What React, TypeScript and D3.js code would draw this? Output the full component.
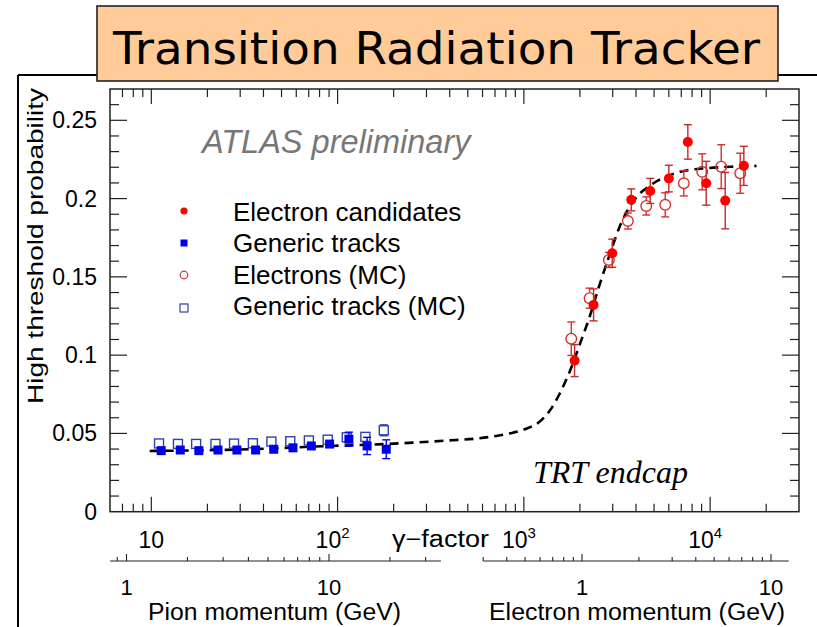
import React from "react";
import * as d3 from "d3";

const W = 817;
const H = 627;

// Axis domains
const gammaDomain = [6, 30000];
const probDomain = [0, 0.27];
const gammaMajor = [10, 100, 1000, 10000];
const gammaExp = ["", "2", "3", "4"];
const probMajor = [0, 0.05, 0.1, 0.15, 0.2, 0.25];
const probLabels = ["0", "0.05", "0.1", "0.15", "0.2", "0.25"];

// Secondary momentum axes
const pionExtent = [0.83, 35.7];
const pionMajor = [1, 10];
const pionMinor = [0.9, 2, 3, 4, 5, 6, 7, 8, 9, 20, 30];
const pionLabels = ["1", "10"];
const electronExtent = [0.3, 12.4];
const electronMajor = [1, 10];
const electronMinor = [0.3, 0.4, 0.5, 0.6, 0.7, 0.8, 0.9, 2, 3, 4, 5, 6, 7, 8, 9];
const electronLabels = ["1", "10"];

// Generic tracks (data)
const genericGamma = [11.3, 14.3, 18.0, 22.8, 28.8, 36.3, 45.4, 57.6, 72.3, 90.6, 115, 144, 182.5];
const genericValue = [0.039, 0.0394, 0.039, 0.0394, 0.0394, 0.0394, 0.0399, 0.0408, 0.042, 0.0432, 0.0463, 0.042, 0.0399];
const genericError = [0.001, 0.001, 0.001, 0.001, 0.001, 0.001, 0.001, 0.0012, 0.0015, 0.002, 0.0045, 0.0055, 0.006];

// Generic tracks (MC)
const genericMcGamma = [11.0, 13.9, 17.4, 22.1, 27.8, 35.1, 44.1, 55.7, 70.1, 88.5, 112, 141, 177];
const genericMcValue = [0.0436, 0.0433, 0.0433, 0.0433, 0.0435, 0.0437, 0.0448, 0.045, 0.0455, 0.046, 0.0475, 0.0478, 0.052];
const genericMcError = [0.0008, 0.0008, 0.0008, 0.0008, 0.0008, 0.0009, 0.001, 0.001, 0.0012, 0.0015, 0.002, 0.002, 0.0035];

// Electron candidates (data)
const electronGamma = [1872, 2367, 2982, 3772, 4770, 6002, 7592, 9530, 12050, 15170];
const electronValue = [0.0965, 0.1321, 0.1651, 0.1992, 0.2049, 0.2128, 0.2362, 0.2098, 0.1987, 0.2209];
const electronError = [0.0102, 0.0102, 0.009, 0.007, 0.008, 0.0085, 0.011, 0.014, 0.018, 0.0125];

// Electrons (MC)
const electronMcGamma = [1797, 2253, 2860, 3616, 4540, 5741, 7225, 9070, 11470, 14510];
const electronMcValue = [0.1105, 0.1364, 0.1608, 0.1857, 0.1953, 0.196, 0.2098, 0.2171, 0.2204, 0.2162];
const electronMcError = [0.0107, 0.0064, 0.0048, 0.0051, 0.0058, 0.0077, 0.0081, 0.0115, 0.014, 0.0128];

// Fit curve
const fitGamma = [9.8, 29.8, 90.6, 186, 253.5, 383, 578, 711, 873, 1030, 1214, 1373, 1554, 1759, 1991, 2253, 2549, 2884, 3264, 3694, 4178, 4728, 5812, 7443, 9531, 13250, 17750];
const fitValue = [0.0388, 0.0397, 0.042, 0.0433, 0.0441, 0.0454, 0.0469, 0.0484, 0.0505, 0.053, 0.0575, 0.0643, 0.0752, 0.0893, 0.1065, 0.1244, 0.1449, 0.164, 0.1819, 0.1947, 0.203, 0.2081, 0.2141, 0.2179, 0.2194, 0.2204, 0.2209];

const legendLabels = ["Electron candidates", "Generic tracks", "Electrons (MC)", "Generic tracks (MC)"];

const SANS = "'Liberation Sans', Arial, Helvetica, sans-serif";

export default function App() {
  const left = 110, right = 799, top = 89, bottom = 511.7;
  const x = d3.scaleLog().domain(gammaDomain).range([left, right]);
  const y = d3.scaleLinear().domain(probDomain).range([bottom, top]);
  const pion = d3.scaleLog().domain([1, 10]).range([126.5, 329]);
  const elec = d3.scaleLog().domain([1, 10]).range([582, 771]);

  const gammaTicks = x.ticks();
  const probTicks = d3.range(0, 0.2701, 0.01);

  const line = d3
    .line<number>()
    .x((_, i) => x(fitGamma[i]))
    .y((d) => y(d))
    .curve(d3.curveMonotoneX);

  const redBar = "#c22a2a";
  const redOpen = "#d23232";
  const blue = "#0000ee";
  const blueOpen = "#3040b0";

  const errBar = (cx: number, v: number, e: number, gap: number, color: string, key: string) => {
    const yt = y(v + e), yb = y(v - e), yc = y(v);
    const items: any[] = [];
    if (yc - yt > gap) {
      items.push(<line key={key + "u"} x1={cx} x2={cx} y1={yt} y2={yc - gap} stroke={color} strokeWidth={1.4} />);
      items.push(<line key={key + "uc"} x1={cx - 4} x2={cx + 4} y1={yt} y2={yt} stroke={color} strokeWidth={1.4} />);
    }
    if (yb - yc > gap) {
      items.push(<line key={key + "d"} x1={cx} x2={cx} y1={yc + gap} y2={yb} stroke={color} strokeWidth={1.4} />);
      items.push(<line key={key + "dc"} x1={cx - 4} x2={cx + 4} y1={yb} y2={yb} stroke={color} strokeWidth={1.4} />);
    }
    return items;
  };

  return (
    <svg width={W} height={H} style={{ position: "absolute", left: 0, top: 0, background: "#fff" }} fontFamily={SANS}>
      {/* outer slide border */}
      <line x1={18} x2={W} y1={75} y2={75} stroke="#000" strokeWidth={2} />
      <line x1={18} x2={18} y1={75} y2={H} stroke="#000" strokeWidth={2} />

      {/* title box */}
      <rect x={97} y={6} width={681} height={75} fill="#ffcc99" stroke="#222" strokeWidth={1.6} />
      <text x={113} y={64} fontFamily="'DejaVu Sans', sans-serif" fontSize={45} textLength={647} lengthAdjust="spacingAndGlyphs" fill="#000">
        Transition Radiation Tracker
      </text>

      {/* plot frame */}
      <rect x={left} y={top} width={right - left} height={bottom - top} fill="none" stroke="#222" strokeWidth={1.5} />

      {/* gamma ticks bottom & top */}
      {gammaTicks.map((t, i) => {
        const major = gammaMajor.includes(t);
        const len = major ? 15 : 8;
        const xx = x(t);
        if (xx < left + 0.5 || xx > right - 0.5) return null;
        return (
          <g key={"gt" + i}>
            <line x1={xx} x2={xx} y1={bottom} y2={bottom - len} stroke="#222" strokeWidth={1.2} />
            <line x1={xx} x2={xx} y1={top} y2={top + len} stroke="#222" strokeWidth={1.2} />
          </g>
        );
      })}
      {gammaMajor.map((t, i) => (
        <text key={"gl" + i} x={x(t) + (gammaExp[i] ? -5 : 0)} y={548} fontSize={23} textAnchor="middle">
          10
          {gammaExp[i] ? (
            <tspan dy={-10} fontSize={15}>
              {gammaExp[i]}
            </tspan>
          ) : null}
        </text>
      ))}
      <text x={392} y={547} fontSize={23} textLength={97} lengthAdjust="spacingAndGlyphs">
        γ−factor
      </text>

      {/* prob ticks left & right */}
      {probTicks.map((t, i) => {
        const major = i % 5 === 0;
        const len = major ? 17 : 9;
        const yy = y(t);
        if (yy < top + 0.5 || yy > bottom - 0.5) return null;
        return (
          <g key={"pt" + i}>
            <line x1={left} x2={left + len} y1={yy} y2={yy} stroke="#222" strokeWidth={1.2} />
            <line x1={right} x2={right - len} y1={yy} y2={yy} stroke="#222" strokeWidth={1.2} />
          </g>
        );
      })}
      {probMajor.map((t, i) => (
        <text key={"pl" + i} x={97} y={y(t) + 8} fontSize={23} textAnchor="end">
          {probLabels[i]}
        </text>
      ))}
      <text
        transform={`translate(43, 246) rotate(-90)`}
        fontSize={22}
        textAnchor="middle"
        textLength={316}
        lengthAdjust="spacingAndGlyphs"
      >
        High threshold probability
      </text>

      {/* pion momentum axis */}
      <line x1={pion(pionExtent[0])} x2={pion(pionExtent[1])} y1={561} y2={561} stroke="#222" strokeWidth={1.2} />
      {pionMinor.map((t, i) => (
        <line key={"pm" + i} x1={pion(t)} x2={pion(t)} y1={561} y2={557} stroke="#222" strokeWidth={1.1} />
      ))}
      {pionMajor.map((t, i) => (
        <g key={"pM" + i}>
          <line x1={pion(t)} x2={pion(t)} y1={561} y2={554} stroke="#222" strokeWidth={1.1} />
          <text x={pion(t)} y={595} fontSize={22} textAnchor="middle">
            {pionLabels[i]}
          </text>
        </g>
      ))}
      <text x={148} y={620} fontSize={23} textLength={253} lengthAdjust="spacingAndGlyphs">
        Pion momentum (GeV)
      </text>

      {/* electron momentum axis */}
      <line x1={elec(electronExtent[0])} x2={elec(electronExtent[1])} y1={561} y2={561} stroke="#222" strokeWidth={1.2} />
      {electronMinor.map((t, i) => (
        <line key={"em" + i} x1={elec(t)} x2={elec(t)} y1={561} y2={557} stroke="#222" strokeWidth={1.1} />
      ))}
      {electronMajor.map((t, i) => (
        <g key={"eM" + i}>
          <line x1={elec(t)} x2={elec(t)} y1={561} y2={554} stroke="#222" strokeWidth={1.1} />
          <text x={elec(t)} y={595} fontSize={22} textAnchor="middle">
            {electronLabels[i]}
          </text>
        </g>
      ))}
      <text x={489} y={620} fontSize={23} textLength={296} lengthAdjust="spacingAndGlyphs">
        Electron momentum (GeV)
      </text>

      {/* annotations */}
      <text x={202} y={153} fontSize={32.5} fontStyle="italic" fill="#777">
        ATLAS preliminary
      </text>
      <text x={533} y={483} fontSize={32} fontStyle="italic" fontFamily="'Liberation Serif', 'Times New Roman', serif">
        TRT endcap
      </text>

      {/* fit curve */}
      <path d={line(fitValue) || ""} fill="none" stroke="#000" strokeWidth={2.6} strokeDasharray="9 6" />

      {/* generic tracks MC */}
      {genericMcGamma.map((g, i) => {
        const cx = x(g), cy = y(genericMcValue[i]);
        return (
          <g key={"gmc" + i}>
            {errBar(cx, genericMcValue[i], genericMcError[i], 4.5, blueOpen, "gmce" + i)}
            <rect x={cx - 4.5} y={cy - 4.5} width={9} height={9} fill="none" stroke={blueOpen} strokeWidth={1.4} />
          </g>
        );
      })}
      {/* generic tracks data */}
      {genericGamma.map((g, i) => {
        const cx = x(g), cy = y(genericValue[i]);
        return (
          <g key={"gd" + i}>
            {errBar(cx, genericValue[i], genericError[i], 4, blue, "gde" + i)}
            <rect x={cx - 4.5} y={cy - 4.5} width={9} height={9} fill={blue} />
          </g>
        );
      })}
      {/* electrons MC */}
      {electronMcGamma.map((g, i) => {
        const cx = x(g), cy = y(electronMcValue[i]);
        return (
          <g key={"emc" + i}>
            {errBar(cx, electronMcValue[i], electronMcError[i], 5.5, redOpen, "emce" + i)}
            <circle cx={cx} cy={cy} r={5.3} fill="none" stroke={redOpen} strokeWidth={1.4} />
          </g>
        );
      })}
      {/* electron candidates */}
      {electronGamma.map((g, i) => {
        const cx = x(g), cy = y(electronValue[i]);
        return (
          <g key={"ed" + i}>
            {errBar(cx, electronValue[i], electronError[i], 4, redBar, "ede" + i)}
            <circle cx={cx} cy={cy} r={5} fill="#ff0000" />
          </g>
        );
      })}

      {/* legend */}
      {legendLabels.map((lab, i) => {
        const cy = [211, 243, 275, 308][i];
        const mx = 184;
        let marker;
        if (i === 0) marker = <circle cx={mx} cy={cy} r={3.6} fill="#ff0000" />;
        else if (i === 1) marker = <rect x={mx - 3.5} y={cy - 3.5} width={7} height={7} fill={blue} />;
        else if (i === 2) marker = <circle cx={mx} cy={cy} r={3.8} fill="none" stroke={redOpen} strokeWidth={1.2} />;
        else marker = <rect x={mx - 4} y={cy - 4} width={8} height={8} fill="none" stroke={blueOpen} strokeWidth={1.2} />;
        return (
          <g key={"lg" + i}>
            {marker}
            <text x={233} y={[221, 252, 284, 315][i]} fontSize={26}>
              {lab}
            </text>
          </g>
        );
      })}
    </svg>
  );
}
